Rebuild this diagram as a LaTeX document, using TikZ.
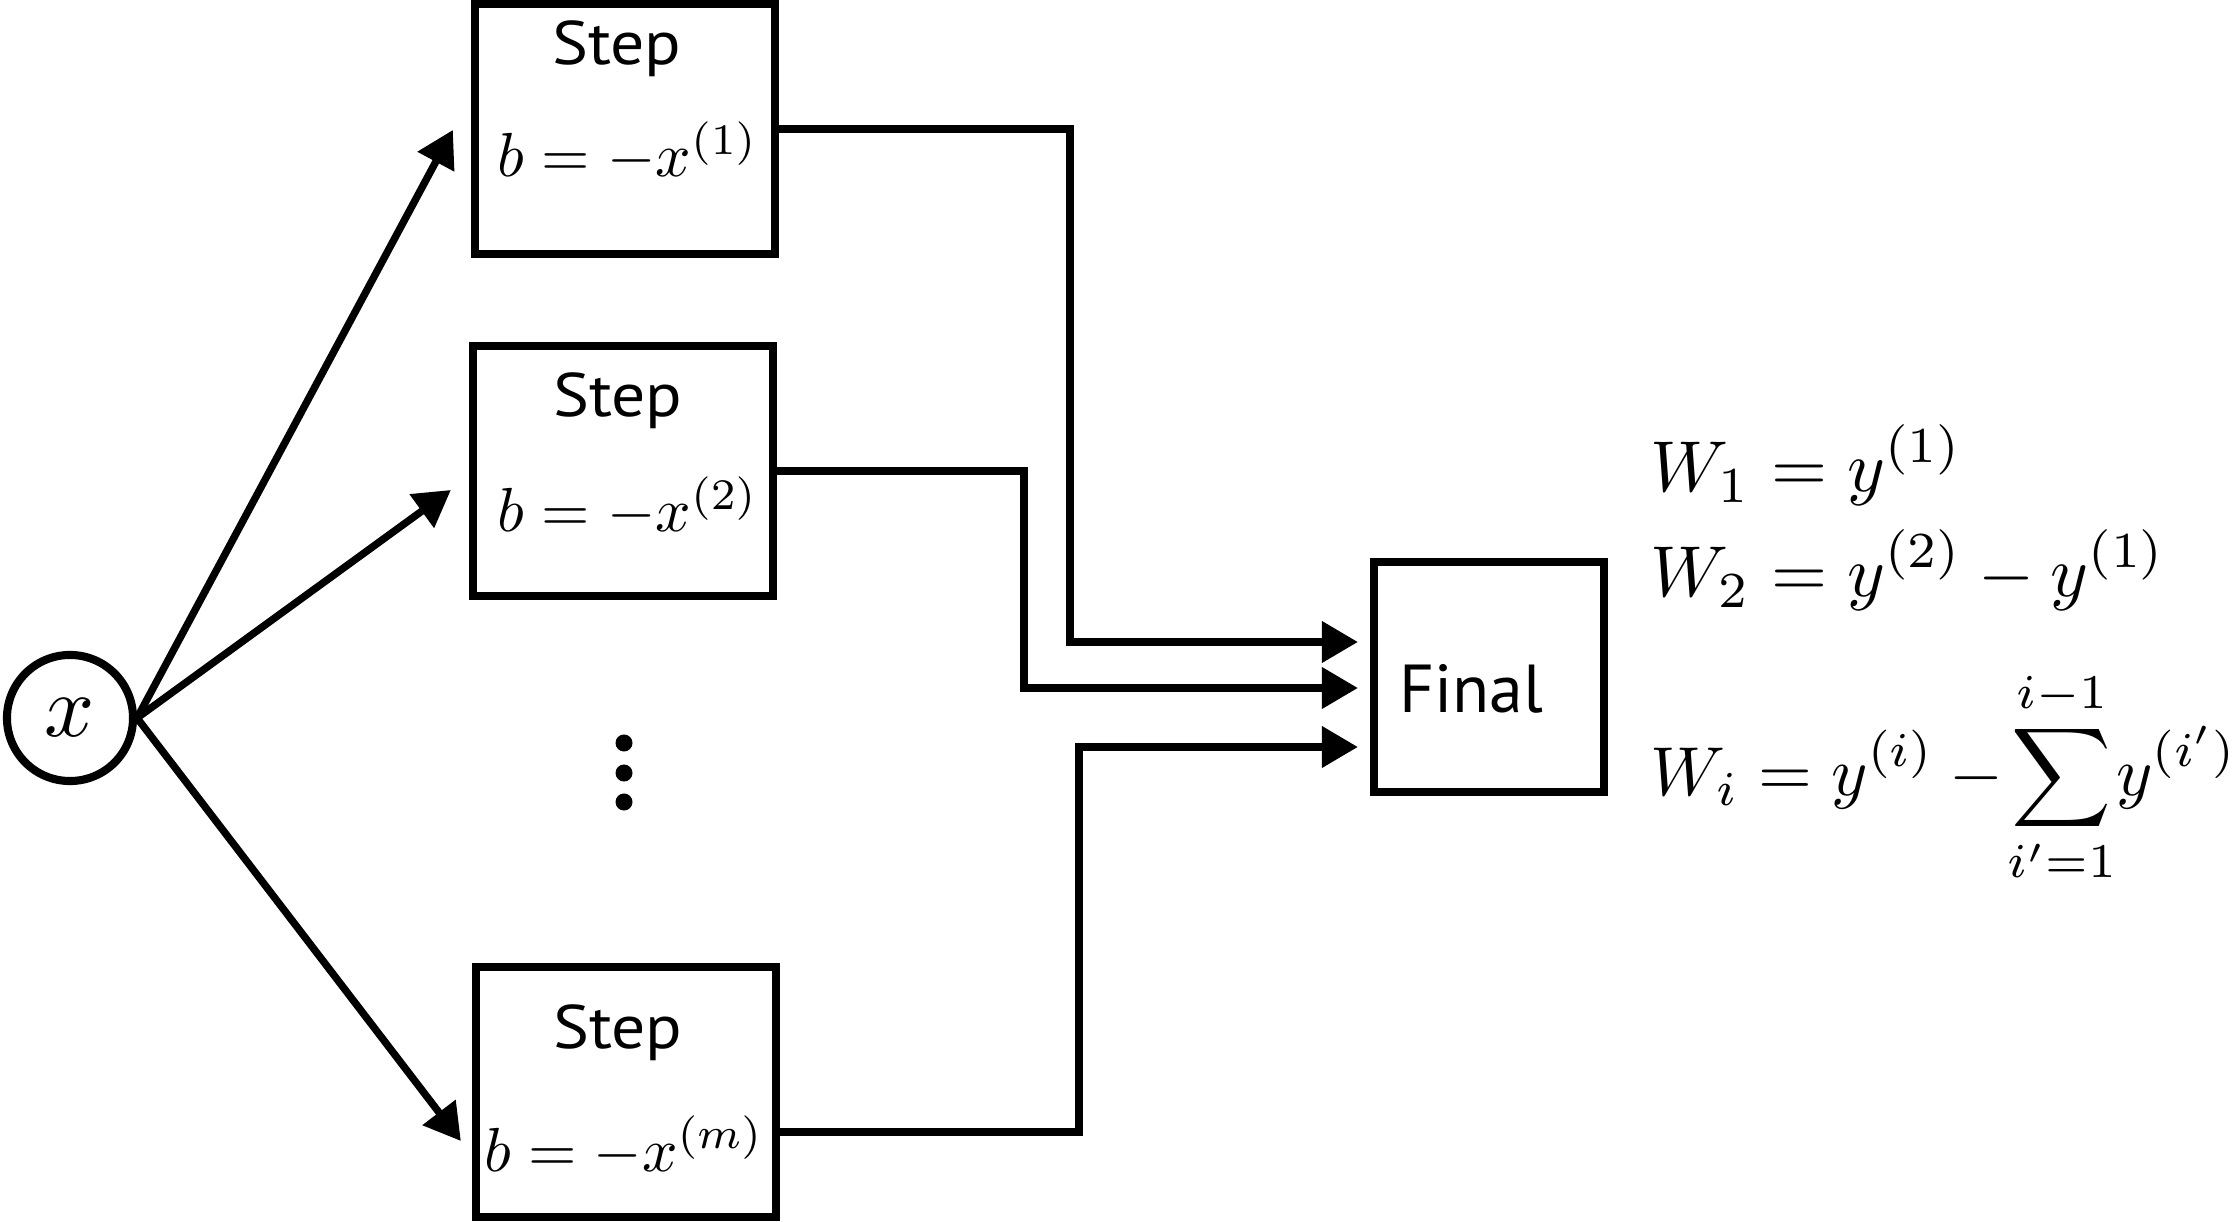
\documentclass[tikz,border=0pt]{standalone}
\usepackage{amsmath}
\usepackage{graphicx}
\usepackage{fontspec}
\newfontfamily\labelfont{PT Sans}
\newfontfamily\stepfont[FakeStretch=1.1]{PT Sans}
\usetikzlibrary{arrows.meta,calc}
\newcommand{\bm}[1]{\scalebox{1.77}{$#1$}}
\newcommand{\wm}[2]{\scalebox{#1}{$\displaystyle #2$}}
\begin{document}
\begin{tikzpicture}[x=0.01cm,y=-0.01cm,
  box/.style={draw,line width=2.3pt,minimum width=3cm,minimum height=2.5cm,inner sep=0pt},
  arr/.style={line width=2.1pt,-{Triangle[length=0.36cm,width=0.40cm]}},
  conn/.style={line width=2.1pt,-{Triangle[length=0.36cm,width=0.40cm]}},
  steptxt/.style={font=\stepfont\fontsize{17.5}{21}\selectfont,anchor=base,inner sep=0pt},
  bmath/.style={font=\fontsize{10}{12}\selectfont,anchor=base,inner sep=0pt},
  wmath/.style={font=\fontsize{10}{12}\selectfont,anchor=base west,inner sep=0pt}]
\useasboundingbox (0,0) rectangle (2233,1222);

% input
\node[draw,circle,line width=2.3pt,minimum size=1.26cm,inner sep=0pt,
      font=\fontsize{10}{12}\selectfont] (x) at (70,718) {\scalebox{2.5}{$x$}};

% step boxes
\node[box] (s1) at (625,129) {};
\node[box] (s2) at (623,471) {};
\node[box] (sm) at (626,1092) {};

\node[steptxt] (s1t) at (617,65) {Step};
\node[bmath]   (s1m) at (628,177) {\bm{b=-x^{(1)}}};
\node[steptxt] (s2t) at (618,417) {Step};
\node[bmath]   (s2m) at (628,532) {\bm{b=-x^{(2)}}};
\node[steptxt] (smt) at (618,1048) {Step};
\node[bmath]   (smm) at (624,1171) {\bm{b=-x^{(m)}}};

% vertical dots
\fill (624,743) circle [radius=0.085cm];
\fill (624,773) circle [radius=0.085cm];
\fill (624,802) circle [radius=0.085cm];

% final box
\node[box,minimum width=2.3cm,minimum height=2.3cm] (final) at (1489,677) {};
\node[font=\labelfont\fontsize{19.3}{23}\selectfont,anchor=base,inner sep=0pt] (finalt) at (1471,712) {Final};

% arrows from x
\coordinate (t1) at ($(s1.west)+(-18,1)$);
\coordinate (t2) at ($(s2.west)+(-18,19)$);
\coordinate (t3) at ($(sm.west)+(-11,49)$);
\draw[arr] (x.east) -- (t1);
\draw[arr] (x.east) -- (t2);
\draw[arr] (x.east) -- (t3);

% connectors to final
\coordinate (f1) at ($(final.west)+(-12,-35)$);
\coordinate (f2) at ($(final.west)+(-12,11)$);
\coordinate (f3) at ($(final.west)+(-12,70)$);
\coordinate (j1) at (1070,0);
\coordinate (j2) at (1024,0);
\coordinate (j3) at (1079,0);
\coordinate (o3) at ($(sm.east)+(0,40)$);
\draw[conn] (s1.east) -| (j1 |- f1) -- (f1);
\draw[conn] (s2.east) -| (j2 |- f2) -- (f2);
\draw[conn] (o3) -| (j3 |- f3) -- (f3);

% formulas
\node[wmath] (w1) at (1650,492) {\wm{2.05}{W_1=y^{(1)}}};
\node[wmath] (w2) at (1650,597) {\wm{2.05}{W_2=y^{(2)}-y^{(1)}}};
\node[wmath] (wi) at (1650,795) {\wm{1.97}{W_i=y^{(i)}-\!\sum_{i'=1}^{i-1}\!y^{(i')}}};
\end{tikzpicture}
\end{document}
